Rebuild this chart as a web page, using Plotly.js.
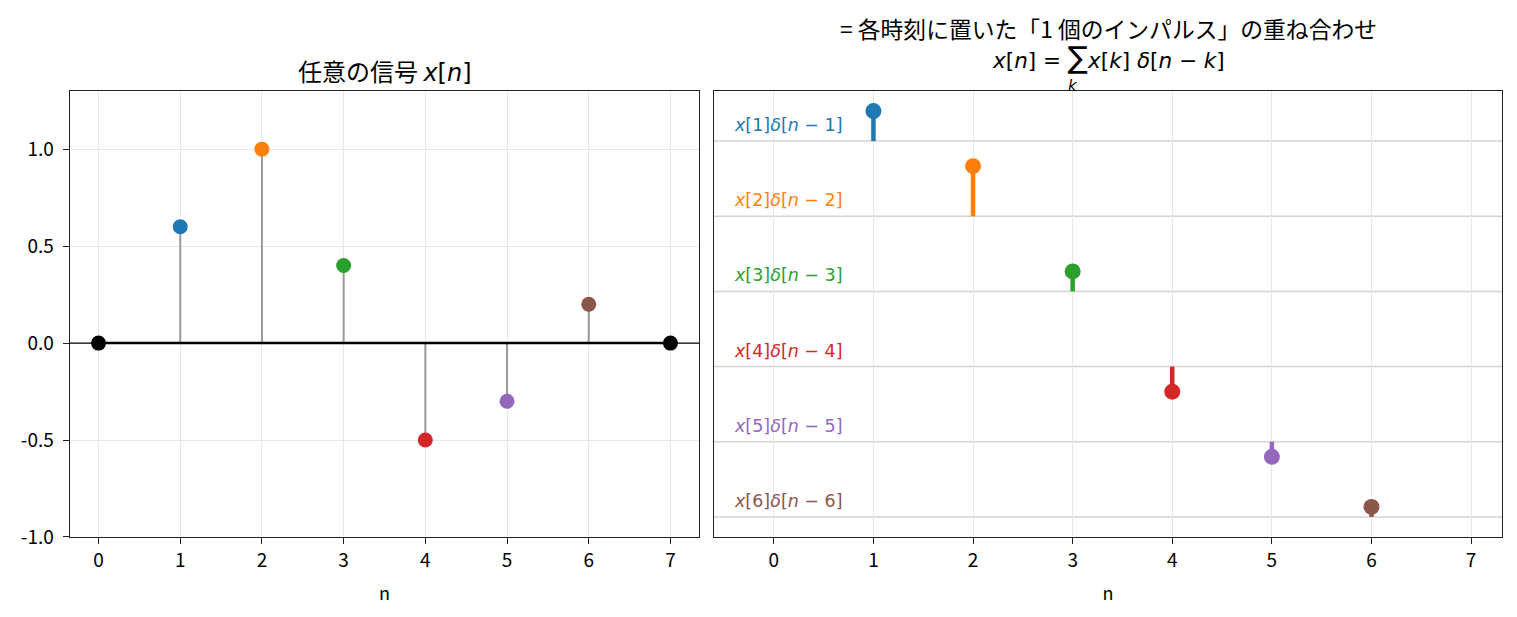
<!DOCTYPE html>
<html>
<head>
<meta charset="utf-8">
<script src="https://cdn.plot.ly/plotly-3.0.1.min.js"></script>
<style>
  html, body { margin: 0; padding: 0; background: #fff; }
  #graph { width: 1517px; height: 617px; }
</style>
</head>
<body>
<div id="graph"></div>
<script>
// signal x[n]
var nVals = [0, 1, 2, 3, 4, 5, 6, 7];
var xVals = [0, 0.6, 1.0, 0.4, -0.5, -0.3, 0.2, 0];
// impulses shown on the right (k = 1..6)
var kVals = [1, 2, 3, 4, 5, 6];
var kColors = ['#1f77b4', '#ff7f0e', '#2ca02c', '#d62728', '#9467bd', '#8c564b'];
var rowGap = 1.5;   // vertical spacing between rows on the right
var xTicks = [0, 1, 2, 3, 4, 5, 6, 7];
var yTicks = [-1.0, -0.5, 0.0, 0.5, 1.0];
var yTickText = ['-1.0', '-0.5', '0.0', '0.5', '1.0'];

var JP = '"Noto Sans CJK JP", "Noto Sans", sans-serif';
var MATH = '"DejaVu Sans", sans-serif';

let traces = [];

// left: gray stems
{
    let sx = [], sy = [];
    kVals.forEach(function (k) {
        sx.push(nVals[k], nVals[k], null);
        sy.push(0, xVals[k], null);
    });
    traces.push({
        x: sx, y: sy, type: 'scatter', mode: 'lines',
        line: {color: '#999999', width: 2},
        xaxis: 'x', yaxis: 'y', hoverinfo: 'skip'
    });
    // stem baseline (from first to last sample)
    traces.push({
        x: [nVals[0], nVals[nVals.length - 1]], y: [0, 0],
        type: 'scatter', mode: 'lines',
        line: {color: '#000000', width: 2.5},
        xaxis: 'x', yaxis: 'y', hoverinfo: 'skip'
    });
    // markers
    let mcol = nVals.map(function (n) {
        let i = kVals.indexOf(n);
        return i >= 0 ? kColors[i] : '#000000';
    });
    traces.push({
        x: nVals, y: xVals, type: 'scatter', mode: 'markers',
        marker: {color: mcol, size: 15},
        xaxis: 'x', yaxis: 'y'
    });
}

// right: each impulse on its own row
let rowBase = kVals.map(function (k) { return -rowGap * k; });
let annotations = [];
let shapes = [];
kVals.forEach(function (k, i) {
    let base = rowBase[i];
    traces.push({
        x: [nVals[k], nVals[k]], y: [base, base + xVals[k]],
        type: 'scatter', mode: 'lines',
        line: {color: kColors[i], width: 4.5},
        xaxis: 'x2', yaxis: 'y2', hoverinfo: 'skip'
    });
    traces.push({
        x: [nVals[k]], y: [base + xVals[k]],
        type: 'scatter', mode: 'markers',
        marker: {color: kColors[i], size: 16},
        xaxis: 'x2', yaxis: 'y2'
    });
    shapes.push({
        type: 'line', xref: 'x2 domain', yref: 'y2',
        x0: 0, x1: 1, y0: base, y1: base,
        line: {color: '#d3d3d3', width: 1.5}, layer: 'below'
    });
    annotations.push({
        xref: 'x2', yref: 'y2', x: -0.42, y: base + 0.08,
        xanchor: 'left', yanchor: 'bottom', showarrow: false,
        text: '<i>x</i>[' + k + ']<i>δ</i>[<i>n</i> − ' + k + ']',
        font: {family: MATH, size: 17.5, color: kColors[i]}
    });
});

// thin zero line across left panel
shapes.push({
    type: 'line', xref: 'x domain', yref: 'y',
    x0: 0, x1: 1, y0: 0, y1: 0,
    line: {color: '#000000', width: 1.2}, layer: 'above'
});

// titles
annotations.push({
    xref: 'paper', yref: 'paper', x: 0.2535, y: 0.8865,
    xanchor: 'center', yanchor: 'middle', showarrow: false,
    text: '任意の信号 <span style="font-family:DejaVu Sans"><i>x</i>[<i>n</i>]</span>',
    font: {family: JP, size: 24, color: '#000'}
});
annotations.push({
    xref: 'paper', yref: 'paper', x: 0.7304, y: 0.953,
    xanchor: 'center', yanchor: 'middle', showarrow: false,
    text: '= 各時刻に置いた「1 個のインパルス」の重ね合わせ',
    font: {family: JP, size: 22.8, color: '#000'}
});
annotations.push({
    xref: 'paper', yref: 'paper', x: 0.7304, y: 0.906,
    xanchor: 'center', yanchor: 'middle', showarrow: false,
    text: '<i>x</i>[<i>n</i>] = <span style="font-size:30px">∑</span><i>x</i>[<i>k</i>] <i>δ</i>[<i>n</i> − <i>k</i>]',
    font: {family: MATH, size: 21.5, color: '#000'}
});
annotations.push({
    xref: 'paper', yref: 'paper', x: 0.7073, y: 0.861,
    xanchor: 'center', yanchor: 'middle', showarrow: false,
    text: '<i>k</i>',
    font: {family: MATH, size: 15, color: '#000'}
});

let axisCommon = {
    showline: true, mirror: true, linecolor: '#222222', linewidth: 1.3,
    showgrid: true, gridcolor: '#e8e8e8', gridwidth: 1,
    zeroline: false, ticks: 'outside', ticklen: 6, tickcolor: '#222222',
    tickfont: {family: JP, size: 19, color: '#000'}
};

var layout = {
    width: 1517, height: 617,
    margin: {l: 0, r: 0, t: 0, b: 0},
    paper_bgcolor: '#ffffff', plot_bgcolor: '#ffffff',
    showlegend: false,
    xaxis: Object.assign({}, axisCommon, {
        domain: [0.0461, 0.4608], range: [-0.35, 7.35],
        tickvals: xTicks, ticktext: xTicks.map(String),
        title: {text: 'n', font: {family: JP, size: 18, color: '#000'}, standoff: 16}
    }),
    yaxis: Object.assign({}, axisCommon, {
        domain: [0.1297, 0.8525], range: [-1.0, 1.3],
        tickvals: yTicks, ticktext: yTickText, ticklabelstandoff: 5
    }),
    xaxis2: Object.assign({}, axisCommon, {
        anchor: 'y2', domain: [0.4707, 0.9901], range: [-0.6, 7.31],
        tickvals: xTicks, ticktext: xTicks.map(String),
        title: {text: 'n', font: {family: JP, size: 18, color: '#000'}, standoff: 16}
    }),
    yaxis2: Object.assign({}, axisCommon, {
        anchor: 'x2', domain: [0.1297, 0.8525], range: [-9.4, -0.5],
        showgrid: false, showticklabels: false, ticks: ''
    }),
    shapes: shapes,
    annotations: annotations
};

Plotly.newPlot('graph', traces, layout, {displayModeBar: false, staticPlot: true});
</script>
</body>
</html>
